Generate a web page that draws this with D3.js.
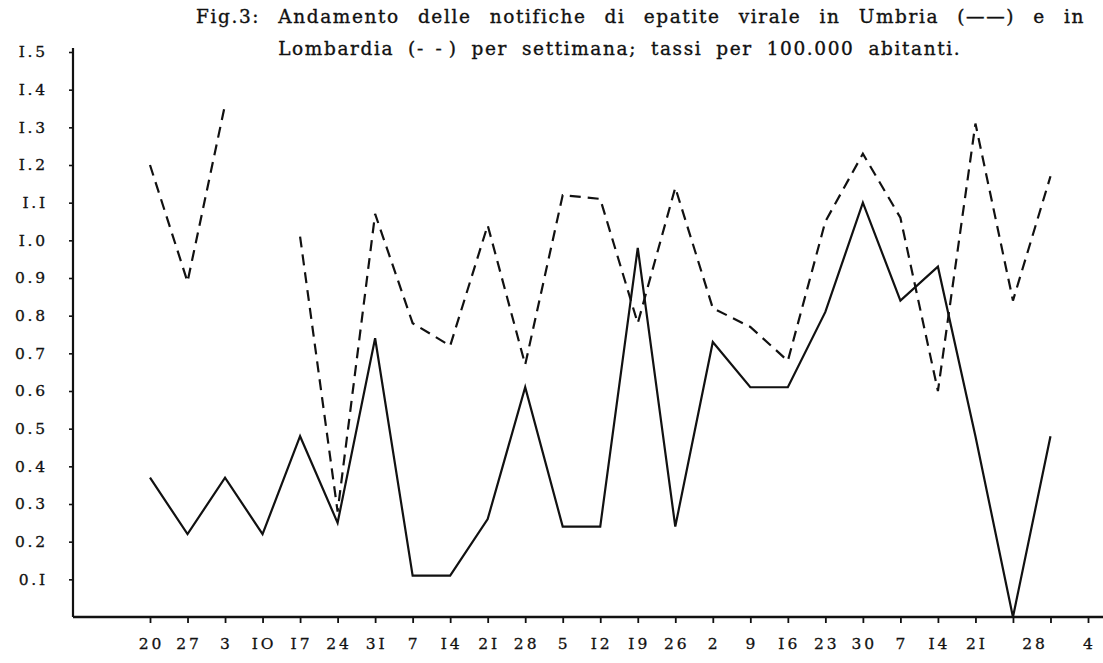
<!DOCTYPE html>
<html>
<head>
<meta charset="utf-8">
<script src="https://cdn.jsdelivr.net/npm/d3@7"></script>
<style>
  html, body { margin: 0; padding: 0; background: #fff; }
  svg { display: block; }
  text { font-family: "DejaVu Serif", "Liberation Serif", serif; fill: #111; }
</style>
</head>
<body>
<svg id="chart" width="1103" height="663"></svg>
<script>
// ---- data ----
const titleLine1Words = ["Fig.3:", "Andamento", "delle", "notifiche", "di", "epatite", "virale",
                         "in", "Umbria", "(\u2014\u2014)", "e", "in"];
const titleLine2Words = ["Lombardia", "(-\u2002-\u2009)", "per", "settimana;", "tassi", "per", "100.000", "abitanti."];
// week index 0..24 (weekly notifications, rate per 100,000)
const umbria = [0.37, 0.22, 0.37, 0.22, 0.48, 0.25, 0.74, 0.11, 0.11, 0.26,
                0.61, 0.24, 0.24, 0.98, 0.24, 0.73, 0.61, 0.61, 0.81, 1.10,
                0.84, 0.93, 0.48, 0.00, 0.48];
const lombardia = [1.20, 0.89, 1.36, null, 1.01, 0.28, 1.07, 0.78, 0.72, 1.04,
                   0.67, 1.12, 1.11, 0.78, 1.14, 0.82, 0.77, 0.68, 1.05, 1.23,
                   1.06, 0.60, 1.31, 0.84, 1.17];
// x tick marks (week index) and printed labels
const xTickIndex = d3.range(0, 26);
const xLabelIndex = [0,1,2,3,4,5,6,7,8,9,10,11,12,13,14,15,16,17,18,19,20,21,22,23.55,25];
const xLabels = ["20","27","3","IO","I7","24","3I","7","I4","2I","28","5","I2","I9","26",
                 "2","9","I6","23","30","7","I4","2I","28","4"];
const yTicks = [0.1,0.2,0.3,0.4,0.5,0.6,0.7,0.8,0.9,1.0,1.1,1.2,1.3,1.4,1.5];
const yLabels = ["0.I","0.2","0.3","0.4","0.5","0.6","0.7","0.8","0.9","I.0","I.I","I.2","I.3","I.4","I.5"];

// ---- layout ----
const W = 1103, H = 663;
const axisX = 73, axisY = 617;
const svg = d3.select("#chart");

const x = d3.scaleLinear().domain([0, 25]).range([150, 1088]);
const y = d3.scaleLinear().domain([0, 1.5]).range([axisY, 52]);

// ---- title: words spread with typewriter-like spacing ----
function spreadLine(words, x0, x1, yb) {
  const t = svg.append("text").attr("class", "title")
    .attr("x", x0).attr("y", yb)
    .style("font-size", "18.5px")
    .style("letter-spacing", "1.6px")
    .attr("stroke", "#111").attr("stroke-width", 0.35)
    .text(words.join(" "));
  const natural = t.node().getComputedTextLength();
  const extra = (x1 - x0 - natural) / (words.length - 1);
  t.style("word-spacing", extra + "px");
  return t;
}
const t1 = spreadLine(titleLine1Words, 196, 1085, 23);
// line 2 starts under "Andamento" and ends under the "(" after "Umbria"
const s1 = titleLine1Words.join(" ");
const node1 = t1.node();
const l2x0 = node1.getStartPositionOfChar(s1.indexOf("Andamento")).x;
const l2x1 = node1.getStartPositionOfChar(s1.indexOf("(")).x + 4;
spreadLine(titleLine2Words, l2x0, l2x1, 55);

// ---- y axis ----
const yAxis = d3.axisLeft(y).tickValues(yTicks).tickSize(4).tickSizeOuter(0)
  .tickFormat((d, i) => yLabels[i]);
const gy = svg.append("g").attr("transform", `translate(${axisX},0)`).call(yAxis);
gy.select(".domain").attr("stroke", "#111").attr("stroke-width", 2.2)
  .attr("d", `M0,${y(1.5) - 4}V${axisY}`);
gy.selectAll(".tick line").attr("stroke", "#111").attr("stroke-width", 1.6);
gy.selectAll(".tick text")
  .attr("x", -25)
  .style("font-size", "15.5px")
  .style("letter-spacing", "2.8px")
  .style("font-family", "'DejaVu Serif', serif")
  .attr("fill", "#111").attr("stroke", "#111").attr("stroke-width", 0.3);

// ---- x axis ----
svg.append("line").attr("x1", axisX).attr("x2", W).attr("y1", axisY).attr("y2", axisY)
  .attr("stroke", "#111").attr("stroke-width", 2.4);
const xAxis = d3.axisBottom(x).tickValues(xTickIndex).tickSize(6).tickSizeOuter(0)
  .tickFormat("");
const gx = svg.append("g").attr("transform", `translate(0,${axisY})`).call(xAxis);
gx.select(".domain").remove();
gx.selectAll(".tick line").attr("stroke", "#111").attr("stroke-width", 1.8);

svg.selectAll("text.xl").data(xLabels).join("text")
  .attr("class", "xl")
  .attr("x", (d, i) => x(xLabelIndex[i]))
  .attr("dx", 1.5)
  .attr("y", 649)
  .attr("text-anchor", "middle")
  .style("font-size", "15.5px")
  .style("letter-spacing", "3px")
  .attr("stroke", "#111").attr("stroke-width", 0.3)
  .text(d => d);

// ---- lines ----
const line = d3.line()
  .defined(d => d != null)
  .x((d, i) => x(i))
  .y(d => y(d));

svg.append("path").datum(umbria)
  .attr("fill", "none").attr("stroke", "#111").attr("stroke-width", 2.2)
  .attr("stroke-linejoin", "miter")
  .attr("d", line);

svg.append("path").datum(lombardia)
  .attr("fill", "none").attr("stroke", "#111").attr("stroke-width", 2.2)
  .attr("stroke-dasharray", "11,7")
  .attr("d", line);
</script>
</body>
</html>
